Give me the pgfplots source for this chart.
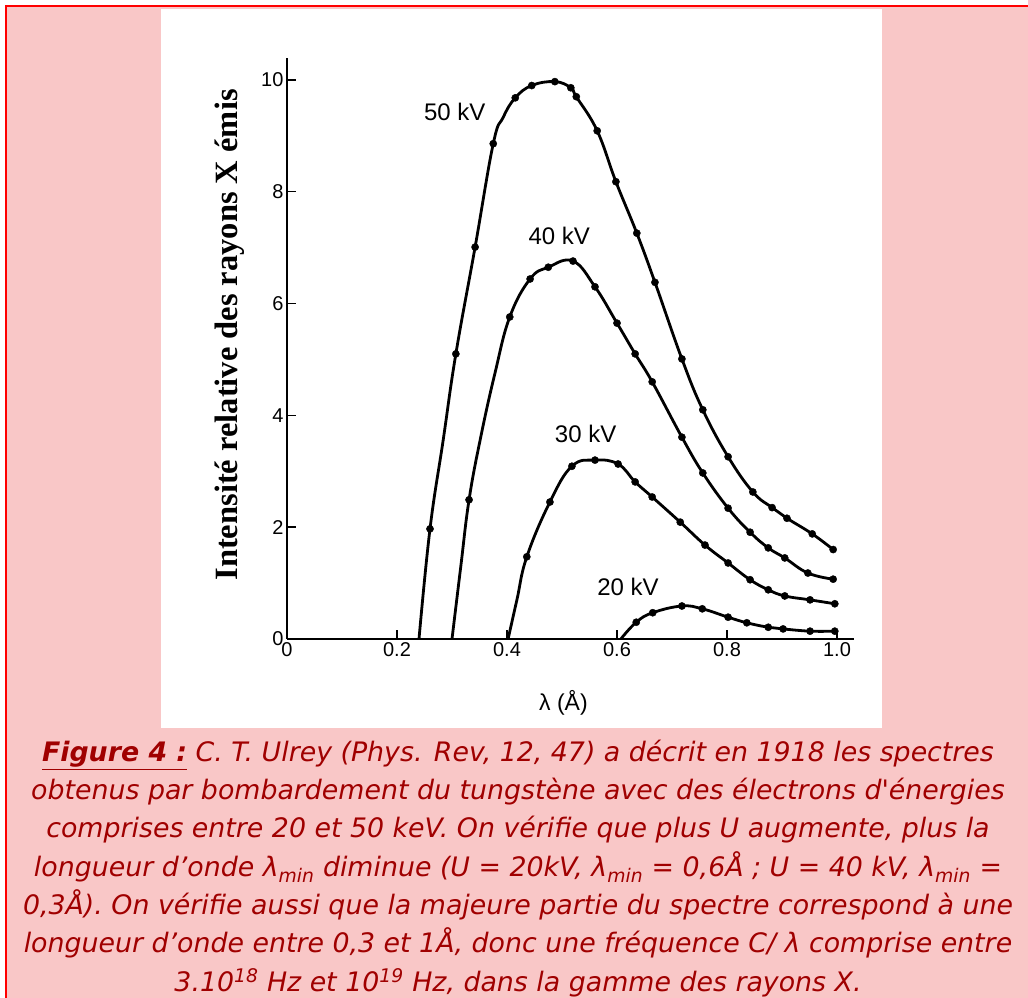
\documentclass[border=0pt]{standalone}
\usepackage{fontspec}
\usepackage{pgfplots}
\pgfplotsset{compat=1.18}
\usepackage{pgfplotstable}
\newfontfamily\capfont{DejaVu Sans}
\newfontfamily\hv{Liberation Sans}
\newfontfamily\tms{Liberation Serif}
\definecolor{pinkbg}{RGB}{249,199,199}
\definecolor{capred}{RGB}{160,0,0}

% curve lines
\pgfplotstableread{
x y
0.240 0
0.260 1.97
0.284 3.56
0.307 5.10
0.342 7.01
0.375 8.86
0.393 9.33
0.415 9.68
0.445 9.90
0.487 9.97
0.516 9.86
0.526 9.70
0.564 9.09
0.598 8.18
0.636 7.26
0.669 6.38
0.718 5.01
0.756 4.10
0.802 3.26
0.847 2.63
0.882 2.35
0.909 2.16
0.955 1.88
0.993 1.60
}\fiftyL
% measured points (marks)
\pgfplotstableread{
x y
0.260 1.97
0.307 5.10
0.342 7.01
0.375 8.86
0.415 9.68
0.445 9.90
0.487 9.97
0.516 9.86
0.526 9.70
0.564 9.09
0.598 8.18
0.636 7.26
0.669 6.38
0.718 5.01
0.756 4.10
0.802 3.26
0.847 2.63
0.882 2.35
0.909 2.16
0.955 1.88
0.993 1.60
}\fiftyM
\pgfplotstableread{
x y
0.300 0
0.316 1.30
0.331 2.49
0.352 3.60
0.378 4.75
0.405 5.76
0.442 6.44
0.475 6.65
0.520 6.76
0.560 6.30
0.600 5.65
0.633 5.10
0.664 4.60
0.718 3.61
0.756 2.97
0.802 2.34
0.842 1.91
0.875 1.63
0.905 1.45
0.947 1.18
0.993 1.07
}\fortyL
\pgfplotstableread{
x y
0.331 2.49
0.405 5.76
0.442 6.44
0.475 6.65
0.520 6.76
0.560 6.30
0.600 5.65
0.633 5.10
0.664 4.60
0.718 3.61
0.756 2.97
0.802 2.34
0.842 1.91
0.875 1.63
0.905 1.45
0.947 1.18
0.993 1.07
}\fortyM
\pgfplotstableread{
x y
0.402 0
0.418 0.70
0.436 1.47
0.478 2.45
0.518 3.09
0.560 3.20
0.602 3.13
0.633 2.81
0.664 2.54
0.715 2.09
0.760 1.68
0.802 1.36
0.842 1.06
0.875 0.88
0.905 0.77
0.951 0.70
0.996 0.63
}\thirtyL
\pgfplotstableread{
x y
0.436 1.47
0.478 2.45
0.518 3.09
0.560 3.20
0.602 3.13
0.633 2.81
0.664 2.54
0.715 2.09
0.760 1.68
0.802 1.36
0.842 1.06
0.875 0.88
0.905 0.77
0.951 0.70
0.996 0.63
}\thirtyM
\pgfplotstableread{
x y
0.607 0
0.635 0.30
0.665 0.47
0.718 0.59
0.755 0.54
0.802 0.39
0.836 0.29
0.875 0.21
0.902 0.18
0.951 0.14
0.996 0.14
}\twentyL
\pgfplotstableread{
x y
0.635 0.30
0.665 0.47
0.718 0.59
0.755 0.54
0.802 0.39
0.836 0.29
0.875 0.21
0.902 0.18
0.951 0.14
0.996 0.14
}\twentyM

\begin{document}
\begin{tikzpicture}[x=1pt,y=1pt]
\path[use as bounding box] (0,0) rectangle (1028,998);
\fill[white] (0,0) rectangle (1028,998);
\fill[pinkbg] (6,0) rectangle (1028,992);
\draw[red, line width=2.6pt] (6,-2) -- (6,992) -- (1030,992);
\fill[white] (161,270) rectangle (882,989);

\begin{axis}[
  at={(287pt,359pt)}, anchor=south west,
  scale only axis, width=566.5pt, height=581.4pt,
  xmin=0, xmax=1.03, ymin=0, ymax=10.4,
  axis x line=bottom, axis y line=left,
  axis line style={-, line width=1.6pt, black},
  xtick={0,0.2,0.4,0.6,0.8,1.0},
  xticklabels={0,0.2,0.4,0.6,0.8,1.0},
  ytick={0,2,4,6,8,10},
  yticklabels={0,2,4,6,8,10},
  tick align=inside, major tick length=9pt,
  tick style={line width=1.4pt, black},
  tick label style={font=\hv\fontsize{20}{20}\selectfont},
  xlabel={λ (Å)},
  ylabel={Intensité relative des rayons X émis},
  every axis x label/.style={at={(axis description cs:0.488,-0.110)}, anchor=center, font=\hv\fontsize{23}{23}\selectfont},
  every axis y label/.style={at={(axis description cs:-0.101,0.523)}, rotate=90, anchor=center, font=\tms\bfseries\fontsize{32.5}{32.5}\selectfont},
  line plot/.style={black, line width=2.8pt, smooth, tension=0.7, no marks},
  pts/.style={black, only marks, mark=*, mark size=3.6pt},
]
\addplot[line plot] table {\fiftyL};
\addplot[pts] table {\fiftyM};
\addplot[line plot] table {\fortyL};
\addplot[pts] table {\fortyM};
\addplot[line plot] table {\thirtyL};
\addplot[pts] table {\thirtyM};
\addplot[line plot] table {\twentyL};
\addplot[pts] table {\twentyM};
\node[font=\hv\fontsize{24}{24}\selectfont] at (axis cs:0.305,9.43) {50 kV};
\node[font=\hv\fontsize{24}{24}\selectfont] at (axis cs:0.495,7.21) {40 kV};
\node[font=\hv\fontsize{24}{24}\selectfont] at (axis cs:0.543,3.67) {30 kV};
\node[font=\hv\fontsize{24}{24}\selectfont] at (axis cs:0.620,0.93) {20 kV};
\end{axis}

\begin{scope}[every node/.style={anchor=base, inner sep=0pt, text=capred, font=\capfont\itshape\fontsize{26.8}{26.8}\selectfont}]
\node at (518,236) {\underline{\bfseries Figure 4 :} C. T. Ulrey (Phys. Rev, 12, 47) a décrit en 1918 les spectres};
\node at (518,198) {obtenus par bombardement du tungstène avec des électrons d'énergies};
\node at (518,160) {comprises entre 20 et 50 keV. On vérifie que plus U augmente, plus la};
\node at (518,121) {longueur d’onde λ\textsubscript{min} diminue (U = 20kV, λ\textsubscript{min} = 0,6Å ; U = 40 kV, λ\textsubscript{min} =};
\node at (518,83) {0,3Å). On vérifie aussi que la majeure partie du spectre correspond à une};
\node at (518,45) {longueur d’onde entre 0,3 et 1Å, donc une fréquence C/ λ comprise entre};
\node at (518,6) {3.10\textsuperscript{18} Hz et 10\textsuperscript{19} Hz, dans la gamme des rayons X.};
\end{scope}
\end{tikzpicture}
\end{document}
